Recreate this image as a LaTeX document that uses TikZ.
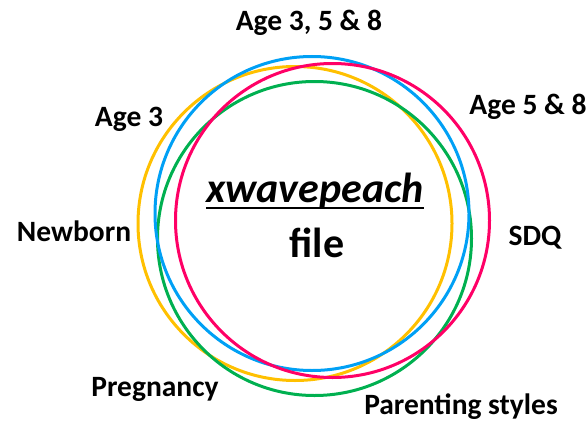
\documentclass[tikz,border=0pt]{standalone}
\usepackage{fontspec}
\setmainfont{Carlito}
\definecolor{cyellow}{RGB}{255,192,0}
\definecolor{cblue}{RGB}{0,160,245}
\definecolor{cgreen}{RGB}{0,176,80}
\definecolor{cred}{RGB}{255,0,102}
\tikzset{
  ring/.style={line width=3pt},
  lbl/.style={font=\fontsize{29.5}{33}\selectfont\bfseries, anchor=base, inner sep=0pt},
  big/.style={font=\fontsize{42}{47}\selectfont\bfseries, anchor=base, inner sep=0pt}
}
\begin{document}
\begin{tikzpicture}[x=1pt,y=-1pt]
\useasboundingbox (0,0) rectangle (588,420);
\draw[ring, cyellow] (295,223.5) circle[radius=157];
\draw[ring, cgreen] (314.5,238.5) circle[radius=157];
\draw[ring, cblue] (312,213.5) circle[radius=157];
\draw[ring, cred] (332.5,220.5) circle[radius=157];
\node[lbl] (a358) at (309,31) {Age 3, 5 \& 8};
\node[lbl] (a3) at (129,126) {Age 3};
\node[lbl] (a58) at (528,114) {Age 5 \& 8};
\node[lbl] (nb) at (74,241.5) {Newborn};
\node[lbl] (sdq) at (535,245.5) {SDQ};
\node[lbl] (preg) at (155,396) {Pregnancy};
\node[lbl] (par) at (461,414) {Parenting styles};
\node[big] (xw) at (315,202) {\itshape xwavepeach};
\draw[line width=2.5pt] (xw.base west) ++(0,6) coordinate (ul1) -- (xw.base east |- ul1);
\node[big] (file) at (317,257) {file};
\end{tikzpicture}
\end{document}
